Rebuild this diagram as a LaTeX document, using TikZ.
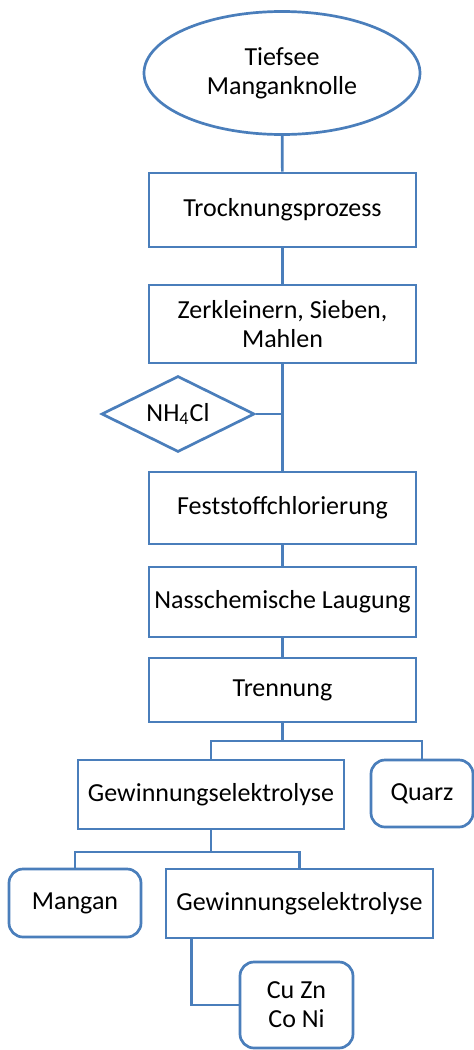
\documentclass[tikz,border=0pt]{standalone}
\usepackage{fontspec}
\setmainfont{Carlito}
\usetikzlibrary{shapes.geometric}
\definecolor{flowblue}{RGB}{74,126,187}

\begin{document}
\begin{tikzpicture}[x=0.5pt,y=-0.5pt,line width=1.35pt,color=flowblue,
                    font=\fontsize{13}{14.5}\selectfont]
  \tikzstyle{every node}=[draw=flowblue,text=black,align=center,inner sep=0pt]
  \tikzstyle{proc}=[rectangle,minimum width=133.5pt]
  \tikzstyle{result}=[rectangle,rounded corners=7pt]
  \useasboundingbox (0,0) rectangle (474,1050);

  \node[ellipse,minimum width=138pt,minimum height=61.5pt] (A) at (282,73) {Tiefsee\\Manganknolle};
  \node[proc,minimum height=37pt]   (B) at (282.5,210) {Trocknungsprozess};
  \node[proc,minimum height=39pt]   (C) at (282.5,324) {Zerkleinern, Sieben,\\Mahlen};
  \node[diamond,aspect=2,minimum width=76.5pt,minimum height=38pt] (D) at (178,414) {NH\textsubscript{4}Cl};
  \node[proc,minimum height=36pt]   (E) at (282.5,508) {Feststoffchlorierung};
  \node[proc,minimum height=35pt]   (F) at (282.5,602) {Nasschemische Laugung};
  \node[proc,minimum height=32pt]   (G) at (282.5,690) {Trennung};
  \node[proc,minimum width=133pt,minimum height=34.5pt] (H) at (211,794.5) {Gewinnungselektrolyse};
  \node[result,minimum width=51pt,minimum height=33.5pt]   (I) at (422,793.5) {Quarz};
  \node[result,minimum width=66pt,minimum height=34pt]     (J) at (75,903) {Mangan};
  \node[proc,minimum height=34.5pt] (K) at (299.5,903.5) {Gewinnungselektrolyse};
  \node[result,minimum width=56.5pt,minimum height=43pt]   (L) at (296.5,1005) {Cu Zn\\Co Ni};

  \path (A) edge (B)
        (B) edge (C)
        (C) edge (E)
        (E) edge (F)
        (F) edge (G);
  \draw (D) -- (D -| C);

  % Verzweigungen
  \coordinate (b1) at (282.5,741);
  \coordinate (b2) at (211,852);
  \draw (G) -- (b1);
  \draw (H.north) |- (b1) -| (I.north);
  \draw (H) -- (b2);
  \draw (J.north) |- (b2) -| (K.north);
  \draw ([xshift=13.5pt]K.south west) |- (L.west);
\end{tikzpicture}
\end{document}
